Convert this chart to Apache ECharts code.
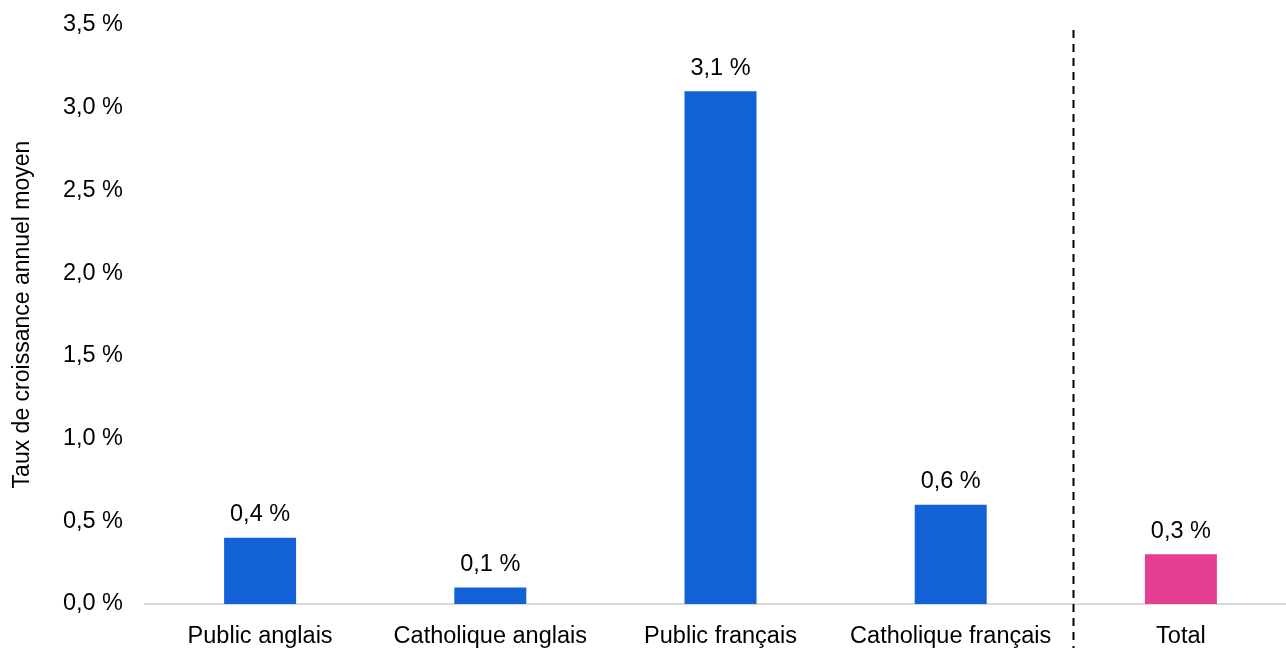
<!doctype html>
<html>
<head>
<meta charset="utf-8">
<script src="https://cdn.jsdelivr.net/npm/echarts@6/dist/echarts.min.js"></script>
<style>
    html, body {margin: 0; padding: 0; background: #fff;}
    #chart {width: 1286px; height: 648px;}
</style>
</head>
<body>
<div id="chart"></div>
<script>
    // données
    var categories = ['Public anglais', 'Catholique anglais', 'Public français', 'Catholique français', 'Total'];
    var values = [0.4, 0.1, 3.1, 0.6, 0.3];
    var barColors = ['#1261d6', '#1261d6', '#1261d6', '#1261d6', '#e43d91'];
    var yTicks = [0, 0.5, 1, 1.5, 2, 2.5, 3, 3.5];

    function fmt(v) {
        return v.toFixed(1).replace('.', ',') + ' %';
    }

    var myChart = echarts.init(document.getElementById('chart'));

    var option = {
        animation: false,
        textStyle: {fontFamily: 'Liberation Sans, Arial, sans-serif'},
        grid: {left: 145, width: 1151, top: 25, bottom: 44, containLabel: false, outerBoundsMode: 'none'},
        xAxis: {
            type: 'category',
            data: categories,
            axisTick: {show: false},
            axisLine: {lineStyle: {color: '#d9d9d9', width: 2}},
            axisLabel: {color: '#000', fontSize: 23.5, margin: 21, interval: 0}
        },
        yAxis: {
            type: 'value',
            min: yTicks[0],
            max: yTicks[yTicks.length - 1],
            interval: 0.5,
            name: 'Taux de croissance annuel moyen',
            nameLocation: 'middle',
            nameGap: 111,
            nameTextStyle: {color: '#000', fontSize: 23},
            splitLine: {show: false},
            axisLine: {show: false},
            axisTick: {show: false},
            axisLabel: {color: '#000', fontSize: 23.5, margin: 22, formatter: fmt}
        },
        series: [{
            type: 'bar',
            barWidth: 72,
            data: values.map(function (v, i) {
                return {value: v, itemStyle: {color: barColors[i]}};
            }),
            label: {
                show: true,
                position: 'top',
                distance: 11,
                color: '#000',
                fontSize: 23.5,
                formatter: function (p) { return fmt(p.value); }
            }
        }]
    };

    myChart.setOption(option);

    // ligne pointillée séparant le total
    var x4 = myChart.convertToPixel({xAxisIndex: 0}, categories[3]);
    var x5 = myChart.convertToPixel({xAxisIndex: 0}, categories[4]);
    var sepX = Math.round(x4 + (x5 - x4) * 0.53) + 0.5;
    myChart.setOption({
        graphic: [{
            type: 'line',
            shape: {x1: sepX, y1: 30, x2: sepX, y2: 648},
            style: {stroke: '#000', lineWidth: 2, lineDash: [8, 6]},
            z: 10
        }]
    });
</script>
</body>
</html>
